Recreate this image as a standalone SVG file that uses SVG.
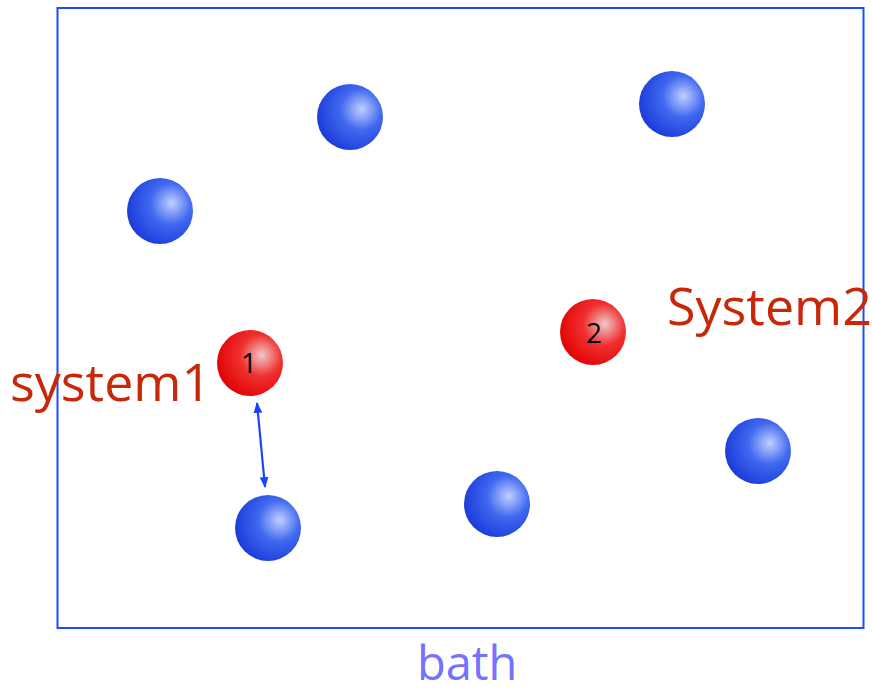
<svg xmlns="http://www.w3.org/2000/svg" width="872" height="694" viewBox="0 0 872 694">
<style>
.lbl{font-family:"Open Sans","Liberation Sans",sans-serif;fill:#c8280a;font-size:52px}
.num{font-family:"Open Sans","Liberation Sans",sans-serif;fill:#000;font-size:28px;text-anchor:middle}
.bath{font-family:"Open Sans","Liberation Sans",sans-serif;fill:#7373ff;font-size:47px}
</style>
<defs>
<radialGradient id="gb" cx="0.65" cy="0.4" r="0.7" fx="0.68" fy="0.38">
<stop offset="0" stop-color="#c0d0ff"/>
<stop offset="0.45" stop-color="#4068f0"/>
<stop offset="1" stop-color="#1838d8"/>
</radialGradient>
<radialGradient id="gr" cx="0.65" cy="0.4" r="0.7" fx="0.68" fy="0.38">
<stop offset="0" stop-color="#f0c8c8"/>
<stop offset="0.45" stop-color="#f03030"/>
<stop offset="1" stop-color="#e00000"/>
</radialGradient>
<marker id="ah" viewBox="0 0 10 10" refX="9" refY="5" markerWidth="11" markerHeight="11" orient="auto-start-reverse" markerUnits="userSpaceOnUse">
<path d="M0,1 L10,5 L0,9 z" fill="#1a44ff"/>
</marker>
</defs>
<g id="bath-box"><rect x="57.5" y="8" width="806" height="620" fill="none" stroke="#1a4dff" stroke-width="2"/></g>
<g id="b1"><circle cx="350" cy="117" r="33" fill="url(#gb)"/></g>
<g id="b2"><circle cx="672" cy="104" r="33" fill="url(#gb)"/></g>
<g id="b3"><circle cx="160" cy="211" r="33" fill="url(#gb)"/></g>
<g id="b4"><circle cx="268" cy="528" r="33" fill="url(#gb)"/></g>
<g id="b5"><circle cx="497" cy="504" r="33" fill="url(#gb)"/></g>
<g id="b6"><circle cx="758" cy="451" r="33" fill="url(#gb)"/></g>
<g id="s1"><circle cx="250" cy="363" r="33" fill="url(#gr)"/><text class="num" x="249" y="373">1</text></g>
<g id="s2"><circle cx="593" cy="332" r="33" fill="url(#gr)"/><text class="num" x="594" y="343">2</text></g>
<g id="connectors"><line x1="257" y1="403" x2="265" y2="487" stroke="#1a44ff" stroke-width="2.2" marker-start="url(#ah)" marker-end="url(#ah)"/></g>
<g id="labels">
<text class="lbl" x="10" y="401">system1</text>
<text class="lbl" x="667" y="325">System2</text>
<text class="bath" x="417" y="680">bath</text>
</g>
</svg>
